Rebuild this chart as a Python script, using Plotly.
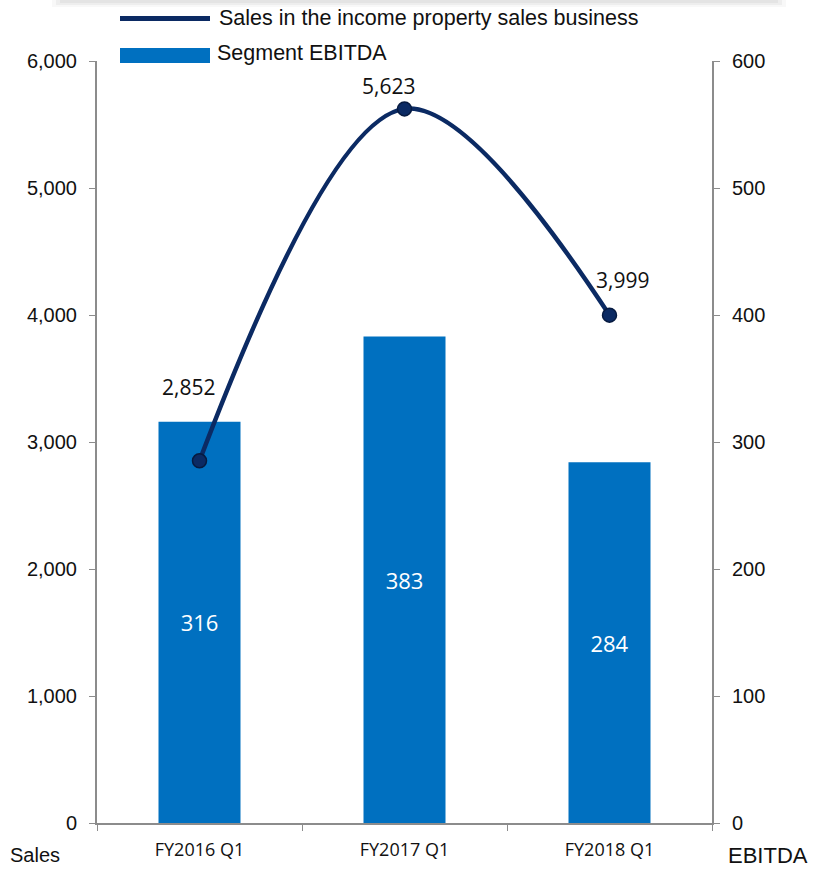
import plotly.graph_objects as go

# Data
categories = ["FY2016 Q1", "FY2017 Q1", "FY2018 Q1"]
sales = [2852, 5623, 3999]          # left axis
ebitda = [316, 383, 284]            # right axis

sales_name = "Sales in the income property sales business"
ebitda_name = "Segment EBITDA"

NAVY = "#0B2A63"
BLUE = "#0070C0"
AXIS_GREY = "#8C8C8C"

W, H = 815, 870
L, R, T, B = 97, 103, 61, 47
PW, PH = W - L - R, H - T - B


def px_x(px):
    return (px - L) / PW


def px_y(py):
    return (H - B - py) / PH


fig = go.Figure()

# Bars live on the right-hand (EBITDA) axis, drawn first
fig.add_trace(go.Bar(
    x=categories, y=ebitda, name=ebitda_name, yaxis="y",
    marker=dict(color=BLUE, line=dict(width=0)),
    width=0.4,
    text=[f"{v:,}" for v in ebitda], textposition="inside",
    insidetextanchor="middle",
    textfont=dict(family="Open Sans", size=22, color="white"),
    showlegend=False,
))

# Sales line on the left-hand axis, overlaid on top of the bars
fig.add_trace(go.Scatter(
    x=categories, y=sales, name=sales_name, yaxis="y2",
    mode="lines+markers",
    line=dict(color=NAVY, width=4.5, shape="spline", smoothing=1.0),
    marker=dict(size=14, color=NAVY, line=dict(color="#061a40", width=1.5)),
    showlegend=False,
))

# Value labels above the line points
label_shifts = [(-11, 74), (-16, 23), (13, 35)]
for cat, val, (dx, dy) in zip(categories, sales, label_shifts):
    fig.add_annotation(
        x=cat, y=val, xref="x", yref="y2", text=f"{val:,}", showarrow=False,
        xshift=dx, yshift=dy,
        font=dict(family="Open Sans", size=21, color="#111111"),
    )

shapes = []
# soft shadow strip along the top edge
for i, (alpha, y1) in enumerate([(0.05, 7), (0.07, 5), (0.08, 3)]):
    shapes.append(dict(
        type="rect", xref="paper", yref="paper", layer="above",
        x0=px_x(52 + i * 4), x1=px_x(786 - i * 4), y0=px_y(y1), y1=px_y(-2),
        fillcolor=f"rgba(120,120,120,{alpha})", line=dict(width=0),
    ))
# legend keys
shapes.append(dict(
    type="rect", xref="paper", yref="paper",
    x0=px_x(120), x1=px_x(210), y0=px_y(21), y1=px_y(16),
    fillcolor=NAVY, line=dict(width=0),
))
shapes.append(dict(
    type="rect", xref="paper", yref="paper",
    x0=px_x(120), x1=px_x(210), y0=px_y(63), y1=px_y(48),
    fillcolor=BLUE, line=dict(width=0),
))

annotations_extra = [
    dict(text=sales_name, x=px_x(217), y=px_y(18), xanchor="left", yanchor="middle",
         font=dict(family="Liberation Sans Narrow, Liberation Sans", size=21.5, color="#111111")),
    dict(text=ebitda_name, x=px_x(215), y=px_y(53), xanchor="left", yanchor="middle",
         font=dict(family="Liberation Sans Narrow, Liberation Sans", size=21.5, color="#111111")),
    dict(text="Sales", x=px_x(35), y=px_y(855), xanchor="center", yanchor="middle",
         font=dict(family="Liberation Sans Narrow, Liberation Sans", size=20, color="#111111")),
    dict(text="EBITDA", x=px_x(810), y=px_y(856), xanchor="right", yanchor="middle",
         font=dict(family="Liberation Sans Narrow, Liberation Sans", size=22, color="#111111")),
]
for a in annotations_extra:
    fig.add_annotation(xref="paper", yref="paper", showarrow=False, **a)

fig.update_layout(
    width=W, height=H,
    margin=dict(l=L, r=R, t=T, b=B, pad=0, autoexpand=False),
    paper_bgcolor="white", plot_bgcolor="white",
    showlegend=False,
    shapes=shapes,
    xaxis=dict(
        type="category", showgrid=False, zeroline=False, automargin=False,
        showline=True, linecolor=AXIS_GREY, linewidth=2,
        ticks="outside", tickson="boundaries", ticklen=6, tickcolor=AXIS_GREY, tickwidth=1,
        tickfont=dict(family="Open Sans", size=18, color="#111111"),
        ticklabelstandoff=9,
    ),
    yaxis=dict(
        range=[0, 600], tickvals=[0, 100, 200, 300, 400, 500, 600],
        side="right", showgrid=False, zeroline=False, automargin=False,
        showline=True, linecolor=AXIS_GREY, linewidth=2,
        ticks="outside", ticklen=6, tickcolor=AXIS_GREY, tickwidth=1,
        tickfont=dict(family="Liberation Sans", size=20, color="#111111"),
        ticklabelstandoff=8,
    ),
    yaxis2=dict(
        range=[0, 6000], tickvals=[0, 1000, 2000, 3000, 4000, 5000, 6000],
        tickformat=",d", overlaying="y", side="left", automargin=False,
        showgrid=False, zeroline=False,
        showline=True, linecolor=AXIS_GREY, linewidth=2,
        ticks="outside", ticklen=6, tickcolor=AXIS_GREY, tickwidth=1,
        tickfont=dict(family="Liberation Sans", size=20, color="#111111"),
        ticklabelstandoff=8,
    ),
)

fig.write_html("out.html")
